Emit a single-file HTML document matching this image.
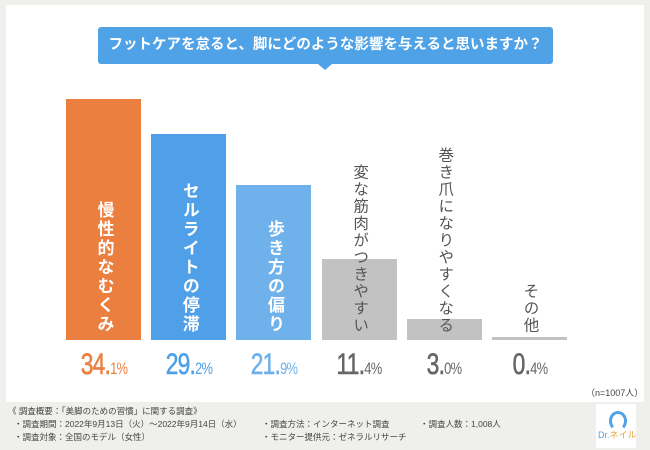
<!DOCTYPE html>
<html><head><meta charset="utf-8"><style>
body{margin:0;width:650px;height:450px;background:#efefeb;font-family:"Liberation Sans","Noto Sans CJK JP",sans-serif;position:relative;overflow:hidden}
.abs{position:absolute}
#panel{left:6px;top:5px;width:638px;height:397px;background:#fff}
#title{left:98px;top:27px;width:455px;height:37px;background:#4fa2e6;border-radius:3px;color:#fff;font-weight:bold;font-size:14.5px;line-height:37px;text-align:center}
#title:after{content:"";position:absolute;left:220px;bottom:-6px;border-left:7px solid transparent;border-right:7px solid transparent;border-top:6px solid #4fa2e6}
.lbl{writing-mode:vertical-rl;white-space:nowrap}
.in{color:#fff;font-weight:bold;font-size:17px;letter-spacing:2px;line-height:20px}
.out{color:#555;font-size:15.5px;letter-spacing:1.5px;line-height:20px}
.pct{font-size:30px;transform:scaleX(0.76);transform-origin:center;white-space:nowrap;text-align:center;width:90px;letter-spacing:-1px;-webkit-text-stroke:0.6px currentColor}
.pct small{font-size:17px;letter-spacing:-1px;-webkit-text-stroke:0}
.foot{font-size:8.5px;color:#444;white-space:nowrap}
</style></head><body>
<div id="panel" class="abs"></div>
<div id="title" class="abs">フットケアを怠ると、脚にどのような影響を与えると思いますか？</div>
<div id="chart"></div>
<div class="abs foot" style="left:586px;top:386px;font-size:9px">（n=1007人）</div>
<div class="abs foot" style="left:8px;top:405px">《 調査概要：「美脚のための習慣」に関する調査》</div>
<div class="abs foot" style="left:14px;top:418px">・調査期間：2022年9月13日（火）～2022年9月14日（水）</div>
<div class="abs foot" style="left:14px;top:431px">・調査対象：全国のモデル（女性）</div>
<div class="abs foot" style="left:262px;top:418px">・調査方法：インターネット調査</div>
<div class="abs foot" style="left:262px;top:431px">・モニター提供元：ゼネラルリサーチ</div>
<div class="abs foot" style="left:420px;top:418px">・調査人数：1,008人</div>
<div class="abs" style="left:596px;top:404px;width:40px;height:44px;background:#fff">
<div style="position:absolute;left:13px;top:7px;width:12px;height:14px;border-radius:50%;border:3px solid #4fa2e6;border-bottom-color:transparent"></div>
<div style="position:absolute;left:2px;top:24px;font-size:9px;color:#e8a33a;white-space:nowrap"><span style="color:#4fa2e6">Dr.</span>ネイル</div>
</div>
<script>
const categories=["慢性的なむくみ","セルライトの停滞","歩き方の偏り","変な筋肉がつきやすい","巻き爪になりやすくなる","その他"];
const values=[34.1,29.2,21.9,11.4,3.0,0.4];
const colors=["#eb7f3f","#4fa0e8","#6fb1ea","#c2c2c2","#c2c2c2","#c2c2c2"];
const pctColors=["#eb7f3f","#4fa0e8","#6fb1ea","#666","#666","#666"];
const base=340,scale=7.07,x0=66,step=85.2,bw=75;
const c=document.getElementById('chart');
values.forEach((v,i)=>{
  const x=x0+i*step,h=v*scale;
  const b=document.createElement('div');
  b.className='abs';
  b.style.cssText=`left:${x}px;top:${base-h}px;width:${bw}px;height:${h}px;background:${colors[i]}`;
  
  
  c.appendChild(b);
  const l=document.createElement('div');
  l.className='abs lbl '+(i<3?'in':'out');
  l.textContent=categories[i];
  l.style.left=(x+bw/2-10)+'px';
  l.style.bottom=(450-334)+'px';
  
  
  c.appendChild(l);
  const p=document.createElement('div');
  p.className='abs pct';
  const s=v.toFixed(1);
  p.innerHTML=s.slice(0,-1)+'<small>'+s.slice(-1)+'%</small>';
  p.style.left=(x+bw/2-45)+'px';
  p.style.top='348px';
  p.style.color=pctColors[i];
  
  
  c.appendChild(p);
});
</script>
</body></html>
